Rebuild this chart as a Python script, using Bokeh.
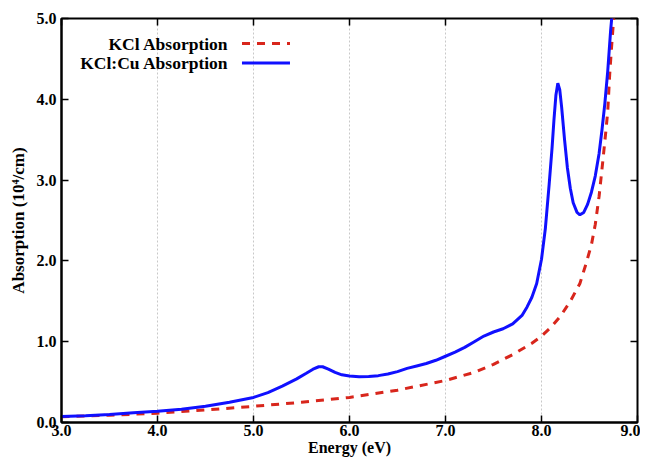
from bokeh.plotting import figure
from bokeh.models import (FixedTicker, PrintfTickFormatter, LinearAxis, Label, Arrow,
                          Range1d, CustomJSTickFormatter)
from bokeh.embed import file_html
from bokeh.resources import INLINE

# ---- data ----
kcl_cu_energy = [3.0, 3.25, 3.5, 3.75, 4.0, 4.25, 4.5, 4.75, 5.0, 5.15, 5.3, 5.45, 5.55,
                 5.62, 5.68, 5.72, 5.78, 5.85, 5.92, 6.0, 6.1, 6.2, 6.3, 6.4, 6.5, 6.6,
                 6.7, 6.8, 6.9, 7.0, 7.1, 7.2, 7.3, 7.4, 7.5, 7.6, 7.7, 7.8, 7.85, 7.9,
                 7.95, 8.0, 8.04, 8.08, 8.11, 8.13, 8.15, 8.17, 8.19, 8.21, 8.24, 8.27,
                 8.30, 8.33, 8.37, 8.40, 8.44, 8.48, 8.52, 8.56, 8.60, 8.63, 8.66, 8.69,
                 8.72, 8.735]
kcl_cu_abs = [0.075, 0.085, 0.10, 0.12, 0.14, 0.165, 0.20, 0.25, 0.31, 0.37, 0.45, 0.54,
              0.61, 0.66, 0.69, 0.69, 0.66, 0.62, 0.59, 0.575, 0.565, 0.57, 0.58, 0.60,
              0.63, 0.67, 0.70, 0.73, 0.77, 0.82, 0.87, 0.93, 1.00, 1.07, 1.12, 1.16,
              1.22, 1.33, 1.43, 1.55, 1.72, 2.02, 2.40, 2.95, 3.40, 3.75, 4.05, 4.20,
              4.12, 3.90, 3.50, 3.15, 2.90, 2.72, 2.60, 2.57, 2.60, 2.70, 2.85, 3.05,
              3.33, 3.62, 3.95, 4.35, 4.85, 5.05]

kcl_energy = [3.0, 3.5, 4.0, 4.5, 5.0, 5.5, 6.0, 6.5, 7.0, 7.3, 7.5, 7.7, 7.9, 8.0, 8.1,
              8.2, 8.3, 8.4, 8.46, 8.52, 8.56, 8.60, 8.64, 8.67, 8.69, 8.71, 8.73, 8.755]
kcl_abs = [0.07, 0.09, 0.115, 0.155, 0.20, 0.25, 0.31, 0.40, 0.52, 0.62, 0.72, 0.84,
           0.98, 1.07, 1.18, 1.32, 1.50, 1.72, 1.95, 2.20, 2.45, 2.80, 3.25, 3.60, 3.85,
           4.30, 4.65, 5.05]

x_ticks = [3, 4, 5, 6, 7, 8, 9]
y_ticks = [0, 1, 2, 3, 4, 5]
legend_labels = ["KCl Absorption", "KCl:Cu Absorption"]

FONT = "Liberation Serif"
RED = "#d8261c"
BLUE = "#1010ff"

p = figure(width=640, height=462, output_backend="svg", toolbar_location=None,
           x_range=Range1d(3, 9), y_range=Range1d(0, 5),
           min_border_left=61, min_border_right=3, min_border_top=18, min_border_bottom=40)
p.background_fill_color = "white"
p.border_fill_color = "white"
p.outline_line_color = "black"
p.outline_line_width = 2

p.line(kcl_energy, kcl_abs, line_color=RED, line_width=3, line_dash="8 7")
p.line(kcl_cu_energy, kcl_cu_abs, line_color=BLUE, line_width=3)

# axes
for ax in (p.xaxis[0], p.yaxis[0]):
    ax.major_tick_in = 7
    ax.major_tick_out = 0
    ax.minor_tick_in = 0
    ax.minor_tick_out = 0
    ax.axis_line_color = "black"
    ax.axis_line_width = 2
    ax.major_tick_line_width = 1.5
    ax.major_label_text_font = FONT
    ax.major_label_text_font_style = "bold"
    ax.major_label_text_font_size = "16px"
    ax.major_label_text_color = "black"
    ax.axis_label_text_font = FONT
    ax.axis_label_text_font_style = "bold"
    ax.axis_label_text_color = "black"
    ax.formatter = PrintfTickFormatter(format="%.1f")

p.xaxis[0].ticker = FixedTicker(ticks=x_ticks)
p.yaxis[0].ticker = FixedTicker(ticks=y_ticks)
p.xaxis[0].axis_label = "Energy (eV)"
p.yaxis[0].axis_label = "Absorption (10\u2074/cm)"
p.xaxis[0].axis_label_text_font_size = "16px"
p.yaxis[0].axis_label_text_font_size = "17px"
p.xaxis[0].major_label_standoff = 2
p.xaxis[0].axis_label_standoff = 0
p.yaxis[0].major_label_standoff = 5
p.yaxis[0].axis_label_standoff = 6

# mirrored tick axes (ticks only)
blank = CustomJSTickFormatter(code="return ''")
top = LinearAxis(ticker=FixedTicker(ticks=x_ticks), formatter=blank,
                 major_tick_in=7, major_tick_out=0, minor_tick_in=0, minor_tick_out=0,
                 major_tick_line_width=1.5, axis_line_color=None, major_label_standoff=0)
right = LinearAxis(ticker=FixedTicker(ticks=y_ticks), formatter=blank,
                   major_tick_in=7, major_tick_out=0, minor_tick_in=0, minor_tick_out=0,
                   major_tick_line_width=1.5, axis_line_color=None, major_label_standoff=0)
p.add_layout(top, "above")
p.add_layout(right, "right")

# grid
p.xgrid.ticker = FixedTicker(ticks=x_ticks[1:-1])
p.xgrid.grid_line_color = "#c8c8c8"
p.xgrid.grid_line_dash = "2 2"
p.xgrid.grid_line_width = 1
p.ygrid.grid_line_color = None

# legend (text right-aligned, sample line to the right)
leg_text_x = 4.74
leg_line_x0, leg_line_x1 = 4.88, 5.38
leg_rows_y = [4.69, 4.45]
leg_styles = [dict(line_color=RED, line_dash="8 7"), dict(line_color=BLUE, line_dash="solid")]
for lab, yy, st in zip(legend_labels, leg_rows_y, leg_styles):
    p.add_layout(Label(x=leg_text_x, y=yy, text=lab, text_align="right",
                       text_baseline="middle", text_font=FONT, text_font_style="bold",
                       text_font_size="17.5px", text_color="black"))
    p.add_layout(Arrow(end=None, x_start=leg_line_x0, y_start=yy, x_end=leg_line_x1,
                       y_end=yy, line_width=3, **st))

open("out.html", "w").write(file_html(p, INLINE))
